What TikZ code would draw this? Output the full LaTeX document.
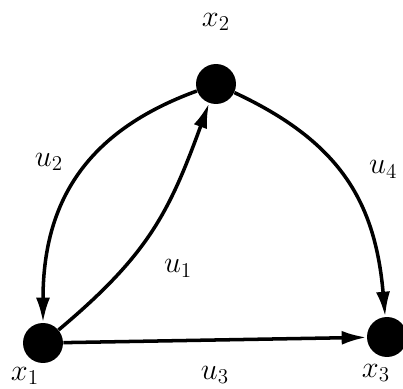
\documentclass[tikz,border=0pt]{standalone}
\usetikzlibrary{arrows.meta}
\begin{document}
\begin{tikzpicture}[
    x=0.02cm, y=-0.02cm,
    font=\LARGE,
    vertex/.style={circle, fill=black, minimum size=0.8cm, inner sep=0pt},
    arc/.style={-{Latex[length=0.5cm, width=0.28cm]}, line width=2pt},
    lbl/.style={inner sep=1pt}
]
\useasboundingbox (0,0) rectangle (403,389);

% Vertices
\node[vertex] (x2) at (216,84) {};
\node[vertex] (x1) at (43,343) {};
\node[vertex] (x3) at (387,337) {};

% Vertex labels
\node[lbl] (lx2) at (216,22) {$x_2$};
\node[lbl] (lx1) at (25,376) {$x_1$};
\node[lbl] (lx3) at (376,373) {$x_3$};

% Arcs
\draw[arc] (x2) to[out=200, in=90, looseness=1.1] node[lbl, pos=0.43, left=0.45cm] {$u_2$} (x1);
\draw[arc] (x1) to[out=40, in=-110, looseness=1.1] node[lbl, pos=0.3, right=0.75cm] {$u_1$} (x2);
\draw[arc] (x2) to[out=-25, in=95, looseness=1.1] node[lbl, pos=0.45, right=0.55cm] {$u_4$} (x3);
\draw[arc] (x1) -- node[lbl, below=0.45cm] {$u_3$} (x3);

\end{tikzpicture}
\end{document}
